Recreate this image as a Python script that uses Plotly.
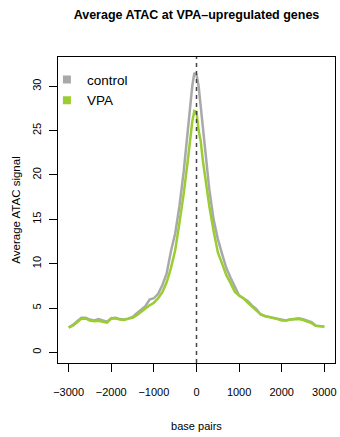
import plotly.graph_objects as go

# ---- data ----
pos = [-3000, -2900, -2800, -2700, -2600, -2500, -2400, -2300, -2200, -2100,
       -2000, -1900, -1800, -1700, -1600, -1500, -1400, -1300, -1200, -1100,
       -1000, -900, -800, -700, -600, -500, -400, -300, -200, -100, -50, 0,
       50, 100, 150, 200, 300, 400, 500, 600, 700, 800, 900, 1000,
       1100, 1200, 1300, 1400, 1500, 1600, 1700, 1800, 1900, 2000,
       2100, 2200, 2300, 2400, 2500, 2600, 2700, 2800, 2900, 3000]

control = [2.8, 3.1, 3.5, 3.9, 3.9, 3.7, 3.6, 3.75, 3.6, 3.45,
           3.85, 3.9, 3.75, 3.7, 3.8, 4.0, 4.4, 4.8, 5.2, 5.95,
           6.1, 6.6, 7.6, 8.9, 11.4, 13.4, 16.5, 20.4, 25.6, 30.0, 31.5, 31.3,
           30.0, 27.8, 25.4, 22.8, 18.4, 15.0, 12.8, 11.1, 9.5, 8.4, 7.4, 6.4,
           6.1, 5.8, 5.3, 4.9, 4.3, 4.1, 4.0, 3.9, 3.8, 3.65,
           3.6, 3.7, 3.75, 3.85, 3.75, 3.6, 3.4, 3.0, 2.95, 2.9]

vpa = [2.8, 3.0, 3.4, 3.8, 3.8, 3.6, 3.5, 3.55, 3.45, 3.35,
       3.8, 3.85, 3.7, 3.65, 3.8, 3.9, 4.2, 4.6, 5.0, 5.3,
       5.6, 6.1, 6.8, 7.9, 9.5, 11.5, 14.6, 17.9, 21.8, 26.0, 27.2, 27.1,
       25.0, 23.8, 21.6, 19.8, 16.5, 13.7, 11.3, 10.0, 8.7, 7.8, 6.8, 6.4,
       6.1, 5.6, 5.2, 4.8, 4.3, 4.1, 4.0, 3.9, 3.75, 3.6,
       3.6, 3.7, 3.75, 3.75, 3.65, 3.5, 3.3, 3.0, 2.95, 2.9]

x_ticks = [-3000, -2000, -1000, 0, 1000, 2000, 3000]
y_ticks = [0, 5, 10, 15, 20, 25, 30]
center_x = 0

series_names = ["control", "VPA"]
series_colors = ["#a9a9a9", "#9acd32"]

FONT = "Liberation Sans, Arial, sans-serif"

fig = go.Figure()
for name, vals, col in zip(series_names, [control, vpa], series_colors):
    fig.add_trace(go.Scatter(x=pos, y=vals, mode="lines", name=name,
                             line=dict(color=col, width=2.5),
                             showlegend=False, hoverinfo="skip"))
for name, col in zip(series_names, series_colors):
    fig.add_trace(go.Scatter(x=[None], y=[None], mode="markers", name=name,
                             marker=dict(symbol="square", size=8, color=col)))

fig.add_vline(x=center_x, line=dict(color="#444444", width=1.5, dash="4px,4px"))

fig.update_layout(
    width=340, height=437,
    margin=dict(l=58, r=3, t=57, b=74),
    paper_bgcolor="white", plot_bgcolor="white",
    font=dict(family=FONT, size=11, color="black"),
    title=dict(text="<b>Average ATAC at VPA\u2013upregulated genes</b>",
               x=0.5, xref="paper", xanchor="center",
               y=1 - 15 / 437, yref="container", yanchor="middle",
               font=dict(family=FONT, size=12.5, color="black")),
    legend=dict(x=-0.04, y=0.976, xref="paper", yref="paper",
                xanchor="left", yanchor="top",
                bgcolor="rgba(0,0,0,0)", font=dict(size=13.5),
                itemwidth=30, tracegroupgap=0),
    showlegend=True,
)
fig.update_xaxes(range=[-3250, 3250], tickvals=x_ticks,
                 showgrid=False, zeroline=False,
                 showline=True, linecolor="black", linewidth=1, mirror=True,
                 ticks="outside", ticklen=8, tickcolor="black",
                 ticklabelstandoff=11, ticklabeloverflow="allow",
                 tickfont=dict(size=11),
                 title=dict(text="base pairs", standoff=25, font=dict(size=11)))
fig.update_yaxes(range=[-1.2, 33.3], tickvals=y_ticks,
                 showgrid=False, zeroline=False,
                 showline=True, linecolor="black", linewidth=1, mirror=True,
                 ticks="outside", ticklen=8, tickcolor="black",
                 tickangle=-90, ticklabelstandoff=4,
                 tickfont=dict(size=11),
                 title=dict(text="Average ATAC signal", standoff=7, font=dict(size=11.5)))

fig.write_html("out.html")
